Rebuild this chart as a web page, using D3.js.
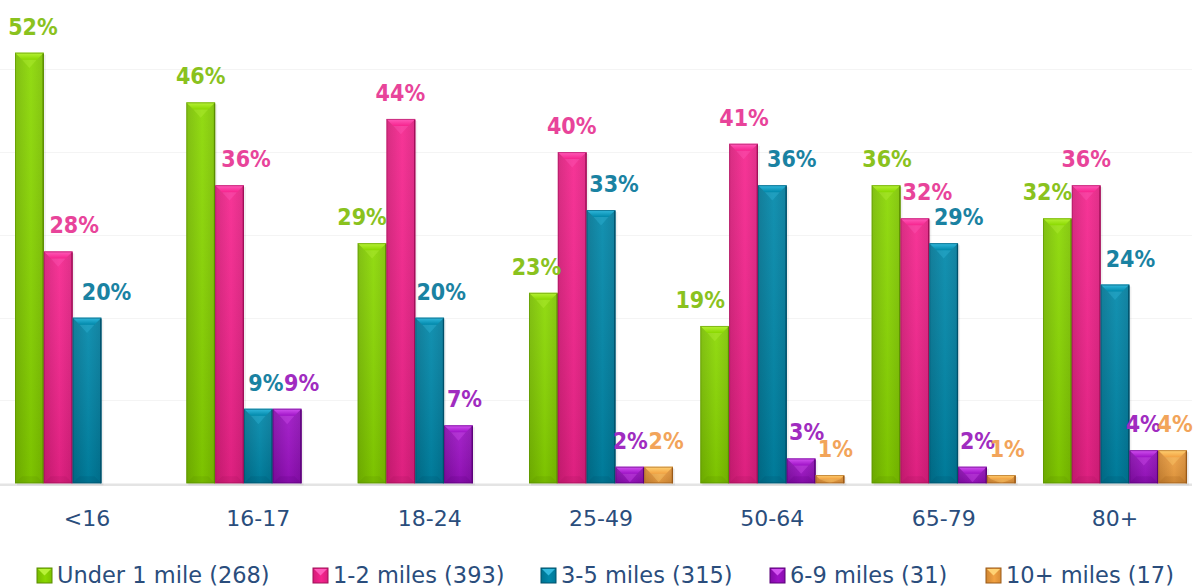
<!DOCTYPE html>
<html><head><meta charset="utf-8">
<script src="https://cdn.jsdelivr.net/npm/d3@7"></script>
<style>body{margin:0;background:#fff}svg{display:block}</style>
</head><body>
<svg id="c" width="1196" height="588"></svg>
<script>
const categories = ["<16","16-17","18-24","25-49","50-64","65-79","80+"];
const seriesNames = ["Under 1 mile (268)","1-2 miles (393)","3-5 miles (315)","6-9 miles (31)","10+ miles (17)"];
const under1 = [52,46,29,23,19,36,32];
const miles12 = [28,36,44,40,41,32,36];
const miles35 = [20,9,20,33,36,29,24];
const miles69 = [null,9,7,2,3,2,4];
const miles10 = [null,null,null,2,1,1,4];
const seriesValues = [under1,miles12,miles35,miles69,miles10];
const yTicks = [0,10,20,30,40,50];

// style: manual horizontal nudges of data labels (px), per category x series
const labelNudge = [
  [3.5,16,19.5,0,0],
  [0,16.5,7.5,14.5,0],
  [-10,-0.5,11.5,6,0],
  [-7,-0.5,13,0.5,7.5],
  [-14.5,0.5,19.5,5.5,5.5],
  [1,12.5,15,5,6],
  [-10,0,15.5,-0.5,2.5]
];
const legendX = [37,313,541,770,986];

const base = ["#8ad800","#f6248e","#0088aa","#9e12c6","#f2a242"];
const light = ["#b8f238","#ff5cba","#34bade","#d454f2","#ffd274"];
const dark = ["#5a8c00","#a01058","#00506a","#5a0078","#9a5a18"];
const labelCol = ["#8ac21e","#e8449a","#1a82a2","#a02cc0","#f2a45a"];
const axisCol = "#2a4d7c";

const svg = d3.select("#c");
const baseY=483.3;
const x = d3.scaleBand().domain(categories).range([15,1187]).paddingInner(1-144/171.33).paddingOuter(0);
const y = d3.scaleLinear().domain([0,52]).range([baseY,52.7]);
const xs = d3.scaleBand().domain(d3.range(5)).range([0,x.bandwidth()]);

const defs = svg.append("defs");
base.forEach((c,i)=>{
  const g = defs.append("linearGradient").attr("id","g"+i).attr("x1","0").attr("x2","1").attr("y1","0").attr("y2","0");
  g.append("stop").attr("offset","0").attr("stop-color",d3.interpolateRgb(c,dark[i])(0.4));
  g.append("stop").attr("offset","0.55").attr("stop-color",c);
  g.append("stop").attr("offset","1").attr("stop-color",d3.interpolateRgb(c,dark[i])(0.3));
  const gv = defs.append("linearGradient").attr("id","gv"+i).attr("x1","0").attr("x2","0").attr("y1","0").attr("y2","1");
  gv.append("stop").attr("offset","0").attr("stop-color",light[i]);
  gv.append("stop").attr("offset","1").attr("stop-color",c);
});
const ov = defs.append("linearGradient").attr("id","ov").attr("x1","0").attr("x2","0").attr("y1","0").attr("y2","1");
ov.append("stop").attr("offset","0").attr("stop-color","#fff").attr("stop-opacity",0.08);
ov.append("stop").attr("offset","1").attr("stop-color","#000").attr("stop-opacity",0.1);

// faint gridlines
svg.append("g").selectAll("line").data(yTicks.slice(1)).join("line")
  .attr("x1",0).attr("x2",1192).attr("y1",d=>Math.round(y(d))+0.5).attr("y2",d=>Math.round(y(d))+0.5)
  .attr("stroke","#f4f4f4");

// axis line / shadow
svg.append("line").attr("x1",0).attr("x2",1192).attr("y1",baseY+1.5).attr("y2",baseY+1.5).attr("stroke","#e4e4e4").attr("stroke-width",2.5);

function bevelBar(g, x0, w, yTop, i){
  const x1=x0+w, y1=baseY, h=y1-yTop;
  const b=Math.min(7, h/2, w/2);
  g.append("rect").attr("x",x0+2).attr("y",yTop+2).attr("width",w).attr("height",h).attr("fill","#000").attr("opacity",0.06);
  g.append("rect").attr("x",x0).attr("y",yTop).attr("width",w).attr("height",h).attr("fill","url(#g"+i+")");
  g.append("rect").attr("x",x0).attr("y",yTop).attr("width",w).attr("height",h).attr("fill","url(#ov)");
  g.append("polygon").attr("points",[[x0,yTop],[x1,yTop],[x1-b,yTop+b],[x0+b,yTop+b]].join(" "))
    .attr("fill","url(#gv"+i+")");
  g.append("polygon").attr("points",[[x0+b,yTop+b],[x1-b,yTop+b],[(x0+x1)/2,Math.min(y1,yTop+b*2.2)]].join(" "))
    .attr("fill",light[i]).attr("opacity",0.35);
  if(h>20){
    g.append("polygon").attr("points",[[x0,y1],[x1,y1],[x1-b,y1-b],[x0+b,y1-b]].join(" ")).attr("fill",dark[i]).attr("opacity",0.18);
  }
  g.append("rect").attr("x",x0+0.5).attr("y",yTop+0.5).attr("width",w-1).attr("height",h-1)
    .attr("fill","none").attr("stroke",dark[i]).attr("stroke-opacity",0.55).attr("stroke-width",1);
  g.append("line").attr("x1",x1-0.6).attr("x2",x1-0.6).attr("y1",yTop+1).attr("y2",y1).attr("stroke",dark[i]).attr("stroke-width",1.3);
}

const bars = svg.append("g");
categories.forEach((cat,ci)=>{
  seriesValues.forEach((vals,si)=>{
    const v = vals[ci];
    if(v==null) return;
    bevelBar(bars, x(cat)+xs(si), xs.bandwidth(), y(v), si);
  });
});

const lab = svg.append("g").attr("font-family","'DejaVu Sans Condensed','DejaVu Sans',sans-serif").attr("font-weight","bold").attr("font-size",23).attr("text-anchor","middle");
categories.forEach((cat,ci)=>{
  seriesValues.forEach((vals,si)=>{
    const v = vals[ci];
    if(v==null) return;
    const cx = x(cat)+xs(si)+xs.bandwidth()/2 + labelNudge[ci][si];
    lab.append("text").attr("x",cx).attr("y",y(v)-18).attr("fill",labelCol[si]).text(v+"%");
  });
});

const xa = d3.axisBottom(x).tickSize(0).tickPadding(0);
const xg = svg.append("g").attr("transform",`translate(0,${baseY})`).call(xa);
xg.select(".domain").remove();
xg.selectAll("text").attr("y",43).attr("dy",0).attr("font-family","'DejaVu Sans',sans-serif").attr("font-size",22).attr("fill",axisCol);

const leg = svg.append("g").attr("font-family","'DejaVu Sans',sans-serif").attr("font-size",22.5).attr("fill",axisCol);
seriesNames.forEach((n,i)=>{
  const gx = legendX[i];
  const my = 568, ms = 15;
  leg.append("rect").attr("x",gx).attr("y",my).attr("width",ms).attr("height",ms).attr("fill","url(#g"+i+")").attr("stroke",dark[i]).attr("stroke-width",1);
  leg.append("polygon").attr("points",[[gx+1,my+1],[gx+ms-1,my+1],[gx+ms/2,my+ms/2]].join(" ")).attr("fill",light[i]);
  leg.append("text").attr("x",gx+ms+5).attr("y",583).attr("fill",axisCol).text(n);
});
</script>
</body></html>
